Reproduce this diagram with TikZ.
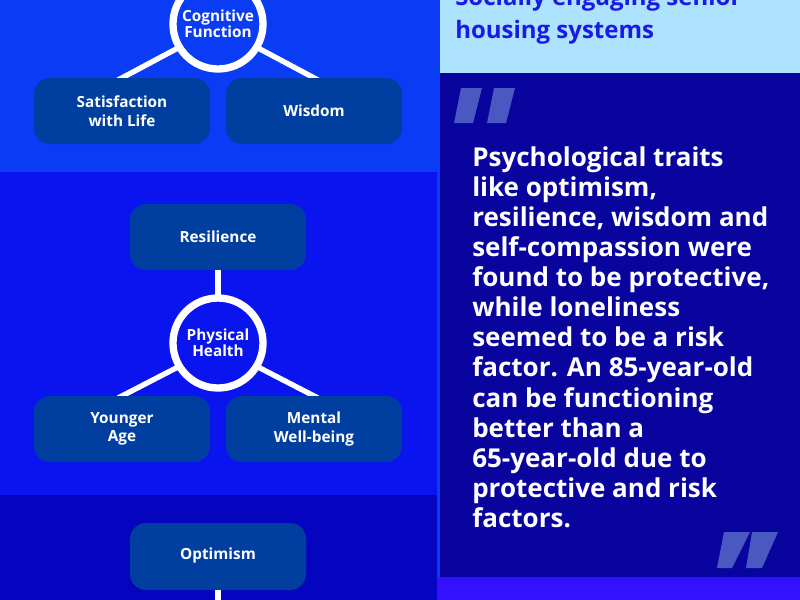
\documentclass[tikz,border=0pt]{standalone}
\usepackage{fontspec}
\setmainfont{Open Sans}
\begin{document}
\begin{tikzpicture}[x=0.75pt,y=-0.75pt,
  box/.style={fill=boxc,rounded corners=12pt,draw=none},
  lbl/.style={text=white,font=\bfseries\fontsize{11.5}{14}\selectfont,align=center},
  circ/.style={circle,draw=white,line width=5.5pt,fill=none,minimum size=90pt*0.75, inner sep=0pt, text=white,font=\bfseries\fontsize{11.5}{14}\selectfont,align=center},
  link/.style={draw=white,line width=4pt},
  bar/.style={fill=quotec}]
\definecolor{bandA}{HTML}{0A3CF5}
\definecolor{bandB}{HTML}{0A14EE}
\definecolor{bandC}{HTML}{0505C0}
\definecolor{boxc}{HTML}{003FA0}
\definecolor{hdr}{HTML}{AEE3FF}
\definecolor{dark}{HTML}{0A049E}
\definecolor{botc}{HTML}{3310FF}
\definecolor{hdrtext}{HTML}{1A1AE6}
\definecolor{quotec}{HTML}{4A58C2}
\useasboundingbox (0,0) rectangle (800,600);
\fill[bandA] (0,0) rectangle (437,172);
\fill[bandB] (0,172) rectangle (437,495);
\fill[bandC] (0,495) rectangle (437,600);
\fill[hdr] (437,0) rectangle (800,73);
\fill[dark] (437,73) rectangle (800,577);
\fill[botc] (437,577) rectangle (800,600);
\fill[bandA] (437,0) rectangle (440,577);
% top group
\coordinate (cgc) at (218,24);
\draw[link] (178,48) -- (118,80);
\draw[link] (258,48) -- (318,80);
\node[circ,fill=bandA] (cg) at (cgc) {Cognitive\\[-2pt]Function};
\fill[box] (34,78) rectangle (210,144);
\fill[box] (226,78) rectangle (402,144);
\node[lbl] (sat) at (122,111) {Satisfaction\\with Life};
\node[lbl] (wis) at (314,111) {Wisdom};
% middle group
\fill[box] (130,204) rectangle (306,270);
\node[lbl] (res) at (218,237) {Resilience};
\coordinate (resb) at (218,270);
\coordinate (phtop) at (218,300);
\draw[link] (resb) -- (phtop);
\draw[link] (178,367) -- (118,398);
\draw[link] (258,367) -- (318,398);
\node[circ,fill=bandB] (ph) at (218,343) {Physical\\[-2pt]Health};
\fill[box] (34,396) rectangle (210,462);
\fill[box] (226,396) rectangle (402,462);
\node[lbl] (ya) at (122,429) {Younger\\Age};
\node[lbl] (mw) at (314,429) {Mental\\Well-being};
% bottom
\fill[box] (130,523) rectangle (306,590);
\node[lbl] (opt) at (218,556) {Optimism};
\coordinate (optb) at (218,590);
\coordinate (optend) at (218,600);
\draw[link] (optb) -- (optend);
% header
\node[anchor=north west,text=hdrtext,font=\bfseries\fontsize{18}{24.5}\selectfont,align=left,inner sep=0pt] (hd) at (455,-13) {Socially engaging senior\\housing systems};
% quotes
\fill[bar] (461,88) -- (482,88) -- (473,123) -- (454,123) -- cycle;
\fill[bar] (494,88) -- (515,88) -- (506,123) -- (487,123) -- cycle;
\fill[bar] (724,532) -- (750,532) -- (732,568) -- (717,568) -- cycle;
\fill[bar] (752,532) -- (778,532) -- (762,568) -- (746,568) -- cycle;
% quote text
\node[anchor=north west,text=white,font=\bfseries\fontsize{19.5}{22.6}\selectfont,align=left,inner sep=0pt] (qt) at (472,146) {Psychological traits\\like optimism,\\resilience, wisdom and\\self-compassion were\\found to be protective,\\while loneliness\\seemed to be a risk\\factor. An 85-year-old\\can be functioning\\better than a\\65-year-old due to\\protective and risk\\factors.};
\end{tikzpicture}
\end{document}
